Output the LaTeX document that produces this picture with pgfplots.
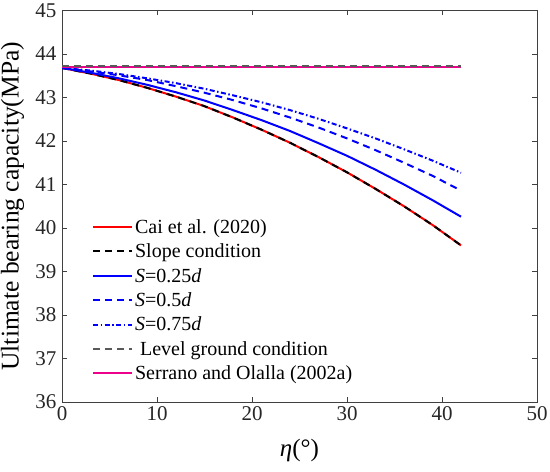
\documentclass[border=0pt]{standalone}
\usepackage{pgfplots}
\usepackage{pgfplotstable}
\pgfplotsset{compat=1.18}
\usetikzlibrary{calc}
\usepackage{fontspec}
\setmainfont{Liberation Serif}
\pgfplotstableread{
eta cai s25 s50 s75
0  43.68 43.68 43.68 43.68
3  43.55 43.57 43.60 43.62
6  43.40 43.44 43.51 43.54
9  43.22 43.29 43.40 43.44
12 43.02 43.12 43.26 43.33
15 42.80 42.93 43.11 43.20
18 42.54 42.71 42.94 43.05
21 42.26 42.48 42.75 42.89
24 41.96 42.23 42.54 42.71
27 41.63 41.95 42.31 42.51
30 41.28 41.66 42.06 42.29
33 40.90 41.34 41.79 42.06
36 40.50 41.00 41.50 41.81
39 40.07 40.64 41.20 41.55
42 39.60 40.26 40.86 41.27
}\datatable
\pgfplotstableread{
eta serrano level
0  43.70 43.72
42 43.70 43.72
}\leveltable
\begin{document}
\begin{tikzpicture}
\begin{axis}[
  scale only axis,
  width=475pt, height=391.5pt,
  xmin=0, xmax=50, ymin=36, ymax=45,
  xtick={0,10,20,30,40,50}, ytick={36,37,38,39,40,41,42,43,44,45},
  xticklabels={0,10,20,30,40,50},
  yticklabels={36,37,38,39,40,41,42,43,44,45},
  tick align=inside, tick pos=both,
  major tick length=5pt,
  axis line style={draw=black!75, line width=0.8pt},
  every tick/.style={draw=black!75, line width=0.8pt},
  tick label style={font=\rmfamily\fontsize{21}{24}\selectfont, text=black!85},
  xticklabel style={yshift=-1pt},
  yticklabel style={xshift=-2pt},
  xlabel={\fontsize{25}{28}\selectfont\textit{η}(°)},
  ylabel={\fontsize{25.5}{28}\selectfont Ultimate bearing capacity(MPa)},
  xlabel style={at={($(rel axis cs:0.5,0)+(0,-48pt)$)}, anchor=center},
  ylabel style={at={($(rel axis cs:0,0.5)+(-49.5pt,0)$)}, anchor=center},
  legend style={draw=none, fill=none, at={(rel axis cs:0.063,0.472)}, anchor=north west,
    font=\fontsize{20}{22}\selectfont, row sep=5pt, inner sep=0pt},
  legend cell align=left,
  legend image code/.code={\draw[#1] (0pt,0pt) -- (39pt,0pt);},
]
\coordinate (sw) at (rel axis cs:0,0);
\coordinate (ne) at (rel axis cs:1,1);
\addplot[red, line width=2pt] table[x=eta,y=cai] {\datatable};
\addlegendentry{Cai et al. (2020)}
\addplot[black, line width=2pt, dash pattern=on 7pt off 5pt] table[x=eta,y=cai] {\datatable};
\addlegendentry{Slope condition}
\addplot[blue, line width=2pt] table[x=eta,y=s25] {\datatable};
\addlegendentry{\textit{S}=0.25\textit{d}}
\addplot[blue, line width=2pt, dash pattern=on 7pt off 5pt] table[x=eta,y=s50] {\datatable};
\addlegendentry{\textit{S}=0.5\textit{d}}
\addplot[blue, line width=2pt, dash pattern=on 5pt off 2.5pt on 1.5pt off 2.5pt] table[x=eta,y=s75] {\datatable};
\addlegendentry{\textit{S}=0.75\textit{d}}
\addplot[magenta, line width=2pt, forget plot] table[x=eta,y=serrano] {\leveltable};
\addplot[black!65, line width=1.6pt, dash pattern=on 7pt off 5pt] table[x=eta,y=level] {\leveltable};
\addlegendentry{\ Level ground condition}
\addlegendimage{magenta, line width=2pt}
\addlegendentry{Serrano and Olalla (2002a)}
\end{axis}
\path (sw) ++(-62pt,-69pt) coordinate (bbA);
\path (ne) ++(13pt,10.5pt) coordinate (bbB);
\pgfresetboundingbox
\path (bbA) rectangle (bbB);
\end{tikzpicture}
\end{document}
